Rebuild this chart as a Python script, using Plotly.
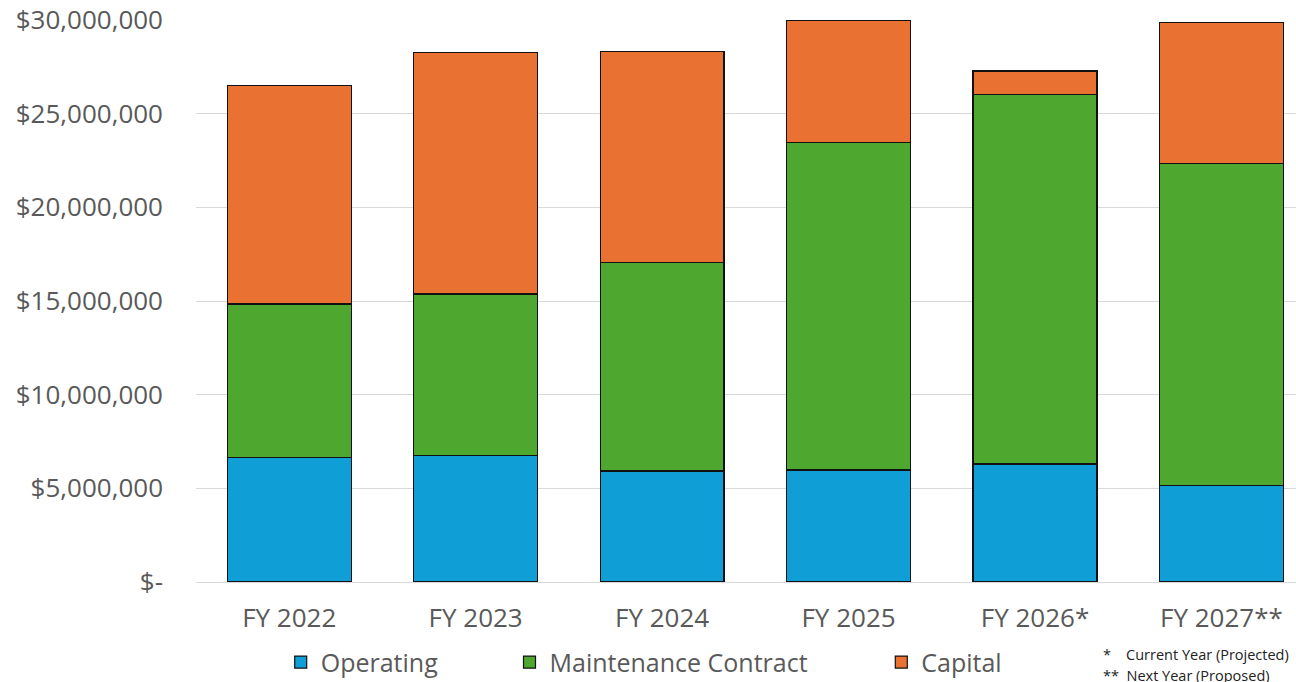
import plotly.graph_objects as go

# values (dollars)
fiscal_years = ["FY 2022", "FY 2023", "FY 2024", "FY 2025", "FY 2026*", "FY 2027**"]
operating = [6660000, 6760000, 5930000, 5980000, 6300000, 5140000]
maintenance = [8180000, 8610000, 11120000, 17470000, 19720000, 17200000]
capital = [11660000, 12890000, 11280000, 6550000, 1260000, 7540000]

y_ticks = [0, 5000000, 10000000, 15000000, 20000000, 25000000, 30000000]
y_tick_text = ["$-", "$5,000,000", "$10,000,000", "$15,000,000",
               "$20,000,000", "$25,000,000", "$30,000,000"]

font_family = "Open Sans"
grey = "#595959"

# one legend per series so the entries sit where the original ones are
series = [
    ("Operating", operating, "#0F9ED5", "legend", 0.077),
    ("Maintenance Contract", maintenance, "#4EA72E", "legend2", 0.285),
    ("Capital", capital, "#E97132", "legend3", 0.623),
]

fig = go.Figure()
for name, vals, color, leg, _ in series:
    fig.add_trace(go.Bar(
        x=fiscal_years, y=vals, name=name, legend=leg,
        marker=dict(color=color, line=dict(color="#111111", width=1.2)),
    ))

legend_style = dict(orientation="h", yanchor="middle", y=-0.143, xanchor="left",
                    font=dict(family=font_family, size=25, color=grey),
                    bgcolor="rgba(0,0,0,0)")
legends = {}
for _, _, _, leg, xpos in series:
    legends[leg] = dict(legend_style, x=xpos)

fig.update_layout(
    barmode="stack",
    bargap=0.335,
    width=1296, height=682,
    margin=dict(l=196, r=0, t=20, b=100, autoexpand=False),
    paper_bgcolor="white", plot_bgcolor="white",
    font=dict(family=font_family, color=grey),
    showlegend=True,
    **legends,
)
fig.update_xaxes(
    range=[-0.5, 5.4],
    showgrid=False, showline=False, ticks="",
    tickfont=dict(family=font_family, size=26, color=grey),
    ticklabelstandoff=18,
)
fig.update_yaxes(
    range=[0, 30000000],
    tickvals=y_ticks, ticktext=y_tick_text,
    showgrid=True, gridcolor="#D9D9D9", gridwidth=1.3,
    zeroline=True, zerolinecolor="#D9D9D9", zerolinewidth=1.3,
    showline=False, ticks="",
    tickfont=dict(family=font_family, size=26, color=grey),
    ticklabelstandoff=32,
)

fig.add_annotation(
    xref="paper", yref="paper", x=0.823, y=-0.129, xanchor="left", yanchor="middle",
    text="*    Current Year (Projected)", showarrow=False,
    font=dict(family=font_family, size=14.5, color="#222222"),
)
fig.add_annotation(
    xref="paper", yref="paper", x=0.823, y=-0.166, xanchor="left", yanchor="middle",
    text="**  Next Year (Proposed)", showarrow=False,
    font=dict(family=font_family, size=14.5, color="#222222"),
)

# drop the browser's default 8px body margin so the figure sits at the page corner
fig.write_html("out.html", config={"displayModeBar": False},
               post_script="document.body.style.margin = '0';")
